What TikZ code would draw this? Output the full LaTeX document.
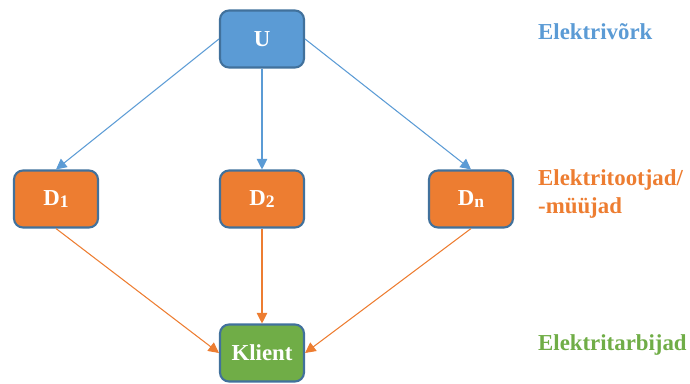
\documentclass[tikz,border=0pt]{standalone}
\usepackage{fontspec}
\setmainfont{Liberation Serif}[BoldFont={Liberation Serif Bold}]
\usetikzlibrary{arrows.meta}
\definecolor{netblue}{HTML}{5B9BD5}
\definecolor{prodorange}{HTML}{ED7D31}
\definecolor{usegreen}{HTML}{70AD47}
\definecolor{boxline}{HTML}{41719C}
\newcommand{\sbx}[1]{\raisebox{-0.25ex}{\fontsize{10}{10}\selectfont #1}}
\tikzset{
  unit/.style={draw=boxline, line width=1.2pt, rounded corners=0.18cm, minimum width=1.68cm, minimum height=1.14cm, text=white, font=\fontsize{13}{15}\selectfont\bfseries},
  link/.style={line width=0.6pt, -{Triangle[length=6pt,width=6pt]}},
  tag/.style={anchor=west, align=left, font=\fontsize{13}{16}\selectfont\bfseries}
}
\begin{document}
\begin{tikzpicture}[x=0.02cm, y=-0.02cm]
			\useasboundingbox (0,0) rectangle (690,383);
			% Definisci i nodi
			\node[unit, fill=netblue] (U) at (262,39) {U};

			\node[unit, fill=prodorange] (D1) at (56,199) {D\sbx{1}};
			\node[unit, fill=prodorange] (D2) at (262,199) {D\sbx{2}};
			\node[unit, fill=prodorange] (Dn) at (471,199) {D\sbx{n}};

			\node[unit, fill=usegreen] (K) at (262,353) {Klient};

			% Etichette
			\node[tag, text=netblue] (Lnet) at (532,32) {Elektrivõrk};
			\node[tag, text=prodorange] (Lprod) at (532,194) {Elektritootjad/\\-müüjad};
			\node[tag, text=usegreen] (Luse) at (532,345) {Elektritarbijad};

			% Collega i nodi
			\draw[link, netblue] (U.west) -- (D1.north);
			\draw[link, netblue] (U.south) -- (D2.north);
			\draw[link, netblue] (U.east) -- (Dn.north);
			\draw[link, prodorange] (D1.south) -- (K.west);
			\draw[link, prodorange] (D2.south) -- (K.north);
			\draw[link, prodorange] (Dn.south) -- (K.east);
		\end{tikzpicture}
\end{document}
